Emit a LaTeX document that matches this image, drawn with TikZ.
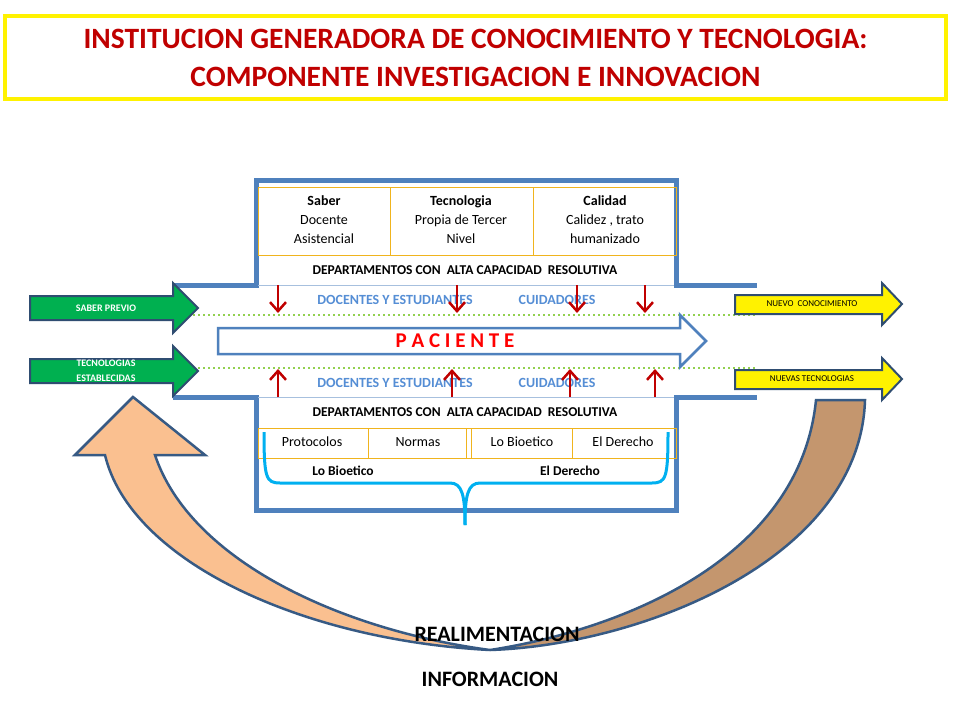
\documentclass[tikz,border=0pt]{standalone}
\usepackage{fontspec}
\setmainfont{Carlito}
\usetikzlibrary{arrows.meta,positioning}
\definecolor{boxblue}{RGB}{79,129,189}
\definecolor{txtblue}{RGB}{85,142,213}
\definecolor{deepred}{RGB}{192,0,0}
\definecolor{titlered}{RGB}{192,0,0}
\definecolor{cellline}{RGB}{240,180,30}
\definecolor{dotgreen}{RGB}{146,208,80}
\definecolor{arrgreen}{RGB}{0,176,80}
\definecolor{bracecyan}{RGB}{0,176,240}
\definecolor{peach}{RGB}{250,192,144}
\definecolor{tan}{RGB}{196,150,110}
\tikzset{
  celltext/.style={align=center,font=\fontsize{14}{19}\selectfont,inner sep=0pt},
  deptext/.style={font=\bfseries\fontsize{13.5}{15}\selectfont,inner sep=0pt},
  bluetext/.style={font=\bfseries\fontsize{14}{15}\selectfont,text=txtblue,inner sep=0pt},
  sidearrow/.style={draw=boxblue!60!black,line width=2pt},
  redarrow/.style={-{Straight Barb[length=9pt,width=16pt,line width=2.5pt]},deepred,line width=2.5pt},
  dotline/.style={dotgreen,line width=2.5pt,dash pattern=on 2pt off 3pt}
}
\begin{document}
\begin{tikzpicture}[x=1pt,y=-1pt]
    \useasboundingbox (0,0) rectangle (960,720);
    \fill[white] (0,0) rectangle (960,720);
    % title
    \node[draw=yellow,line width=4pt,minimum width=941pt,minimum height=83pt,anchor=north west] (title) at (3,14) {};
    \node[align=center,text=titlered,font=\bfseries\fontsize{29.5}{38}\selectfont] (titletext) at (title.center) {INSTITUCION GENERADORA DE CONOCIMIENTO Y TECNOLOGIA:\\COMPONENTE INVESTIGACION E INNOVACION};

    % frame
    \draw[boxblue,line width=5pt] (173,285) -- (256,285) -- (256,180) -- (676,180) -- (676,285) -- (757,285);
    \draw[boxblue,line width=5pt] (173,397) -- (256,397) -- (256,510) -- (676,510) -- (676,397) -- (757,397);
    \draw[boxblue!50,line width=1pt] (258,285) -- (674,285);
    \draw[boxblue!50,line width=1pt] (258,397) -- (674,397);

    % upper table
    \draw[cellline] (258,187) rectangle (676,255);
    \draw[cellline] (390,187) -- (390,255) (533,187) -- (533,255);
    \node[celltext] (saber) at (324,220) {\textbf{Saber}\\Docente\\Asistencial};
    \node[celltext] (tecno) at (461,220) {\textbf{Tecnologia}\\Propia de Tercer\\Nivel};
    \node[celltext] (calidad) at (605,220) {\textbf{Calidad}\\Calidez ,\ trato\\humanizado};
    \node[deptext] (depup) at (465,270) {DEPARTAMENTOS CON\ \ ALTA CAPACIDAD\ \ RESOLUTIVA};

    % lower table
    \node[deptext] (deplow) at (465,412) {DEPARTAMENTOS CON\ \ ALTA CAPACIDAD\ \ RESOLUTIVA};
    \draw[cellline] (258,428) rectangle (676,458);
    \draw[cellline] (368,428) -- (368,458) (466,428) -- (466,458) (471,428) -- (471,458) (572,428) -- (572,458);
    \node[celltext] (proto) at (312,442) {Protocolos};
    \node[celltext] (normas) at (418,442) {Normas};
    \node[celltext] (bioet) at (522,442) {Lo Bioetico};
    \node[celltext] (derecho) at (623,442) {El Derecho};
    \node[deptext] (bioetb) at (343,471) {Lo Bioetico};
    \node[deptext] (derechob) at (570,471) {El Derecho};
    \draw[bracecyan,line width=3pt] (264,432) .. controls (264,478) and (266,483) .. (280,483)
      -- (450,483) .. controls (462,483) and (465,495) .. (465,525);
    \draw[bracecyan,line width=3pt] (668,432) .. controls (668,478) and (666,483) .. (652,483)
      -- (480,483) .. controls (468,483) and (465,495) .. (465,525);

    % dotted lines
    \draw[dotline] (173,315) -- (757,315);
    \draw[dotline] (173,368) -- (757,368);

    % blue labels
    \foreach \yy/\nm in {300/up,383/low} {
      \node[bluetext] (docentes\nm) at (395,\yy) {DOCENTES Y ESTUDIANTES};
      \node[bluetext] (cuidad\nm) at (557,\yy) {CUIDADORES};
    }

    % patient arrow
    \draw[boxblue,line width=2.5pt,fill=white] (218,328) -- (680,328) -- (680,315) -- (706,341) -- (680,367) -- (680,354) -- (218,354) -- cycle;
    \node[text=red,font=\bfseries\fontsize{21}{24}\selectfont] (paciente) at (455,341) {P A C I E N T E};

    % red arrows
    \foreach \xx in {278,457,577,645} \draw[redarrow] (\xx,285) -- (\xx,313);
    \foreach \xx in {278,452,570,655} \draw[redarrow] (\xx,397) -- (\xx,369);

    % green input arrows
    \draw[sidearrow,fill=arrgreen] (30,296) -- (173,296) -- (173,283) -- (198,308) -- (173,333) -- (173,320) -- (30,320) -- cycle;
    \node[text=white,font=\bfseries\fontsize{10}{11}\selectfont] (saberprevio) at (106,308) {SABER PREVIO};
    \draw[sidearrow,fill=arrgreen] (30,359) -- (173,359) -- (173,346) -- (198,371) -- (173,396) -- (173,383) -- (30,383) -- cycle;
    \node[text=white,align=center,font=\bfseries\fontsize{10}{15}\selectfont] (tecest) at (106,371) {TECNOLOGIAS\\ESTABLECIDAS};

    % yellow output arrows
    \draw[sidearrow,fill=yellow] (735,295) -- (882,295) -- (882,283) -- (902,304) -- (882,325) -- (882,314) -- (735,314) -- cycle;
    \node[font=\fontsize{9}{10}\selectfont] (nuevocon) at (812,304) {NUEVO\ \ CONOCIMIENTO};
    \draw[sidearrow,fill=yellow] (735,370) -- (882,370) -- (882,358) -- (902,379) -- (882,400) -- (882,389) -- (735,389) -- cycle;
    \node[font=\fontsize{9}{10}\selectfont] (nuevastec) at (812,379) {NUEVAS TECNOLOGIAS};

    % feedback arrows
    \draw[boxblue!70!black,line width=2.5pt,fill=tan] (816,400) -- (865,400)
      .. controls (860,560) and (640,645) .. (490,650)
      .. controls (620,630) and (800,560) .. (816,400) -- cycle;
    \draw[boxblue!70!black,line width=2.5pt,fill=peach] (490,650)
      .. controls (300,640) and (130,560) .. (105,455) -- (75,455) -- (133,397) -- (205,455) -- (155,455)
      .. controls (190,560) and (340,630) .. (490,650) -- cycle;

    \node[font=\bfseries\fontsize{22}{24}\selectfont] (realim) at (497,634) {REALIMENTACION};
    \node[font=\bfseries\fontsize{22}{24}\selectfont] (info) at (490,679) {INFORMACION};
\end{tikzpicture}
\end{document}
